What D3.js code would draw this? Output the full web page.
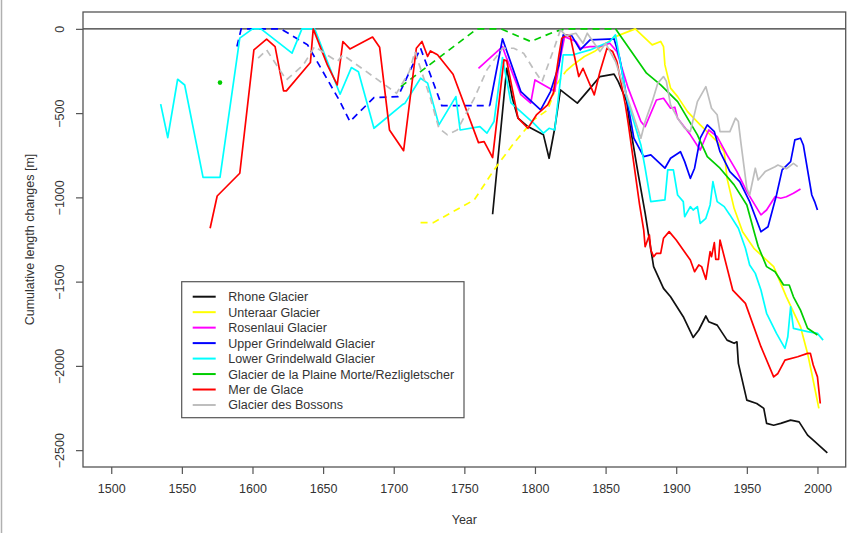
<!DOCTYPE html>
<html>
<head>
<meta charset="utf-8">
<script src="https://cdn.jsdelivr.net/npm/d3@7"></script>
<style>
  body { margin: 0; background: #fff; }
  svg text { font-family: "Liberation Sans", Arial, Helvetica, sans-serif; fill: #333; }
</style>
</head>
<body>
<script>
// cumulative length change [m] by year
var rhone = [[1770,-1100],[1780,-234],[1784,-412],[1788,-530],[1795,-580],[1806,-629],[1810,-768],[1814,-590],[1818,-362],[1830,-441],[1840,-343],[1846,-283],[1856,-269],[1859,-313],[1865,-432],[1867,-560],[1873,-857],[1878,-1094],[1884,-1411],[1891,-1540],[1896,-1590],[1905,-1708],[1912,-1831],[1916,-1787],[1921,-1704],[1923,-1738],[1929,-1758],[1936,-1847],[1941,-1866],[1943,-1857],[1944,-1985],[1950,-2203],[1957,-2223],[1962,-2252],[1964,-2341],[1969,-2352],[1974,-2341],[1981,-2322],[1987,-2332],[1993,-2411],[1997,-2441],[2007,-2516]];

var unteraarRecon = [[1719,-1150],[1728,-1150],[1742,-1085],[1757,-1015],[1771,-837],[1785,-679],[1799,-540],[1809,-481],[1816,-322],[1822,-250]];
var unteraar = [[1822,-250],[1827,-214],[1835,-164],[1842,-135],[1857,-46],[1871,0],[1883,-95],[1889,-75],[1891,-105],[1892,-214],[1896,-352],[1901,-402],[1908,-491],[1917,-570],[1929,-669],[1934,-729],[1936,-887],[1941,-1065],[1947,-1204],[1955,-1302],[1969,-1411],[1978,-1590],[1988,-1768],[1993,-1926],[1996,-2045],[2001,-2252]];

var rosenlaui = [[1760,-234],[1777,-105],[1779,-154],[1790,-390],[1797,-440],[1800,-303],[1814,-370],[1817,-214],[1821,-46],[1829,-75],[1832,-115],[1839,-105],[1846,-105],[1853,-85],[1858,-135],[1866,-352],[1875,-550],[1878,-580],[1886,-422],[1891,-412],[1896,-471],[1899,-465],[1901,-530],[1910,-629],[1917,-719],[1923,-600],[1929,-640],[1936,-748],[1943,-847],[1950,-966],[1960,-1104],[1964,-1075],[1970,-996],[1974,-1005],[1978,-996],[1983,-976],[1988,-950]];

var upperRecon = [[1589,-105],[1592,0],[1620,0],[1639,-95],[1662,-432],[1669,-550],[1686,-408],[1703,-402],[1719,-115],[1734,-455],[1768,-455]];
var upper = [[1768,-455],[1777,-59],[1790,-372],[1804,-481],[1811,-372],[1817,-214],[1820,-36],[1826,-40],[1832,-125],[1839,-65],[1856,-59],[1860,-174],[1865,-412],[1870,-649],[1877,-758],[1882,-748],[1892,-827],[1896,-768],[1903,-729],[1906,-788],[1910,-887],[1913,-827],[1917,-649],[1922,-570],[1927,-610],[1931,-729],[1938,-847],[1945,-907],[1952,-1025],[1960,-1204],[1965,-1174],[1971,-986],[1975,-837],[1981,-788],[1984,-659],[1988,-649],[1990,-689],[1996,-986],[1998,-1025],[2000,-1075]];

var lower = [[1535,-447],[1540,-645],[1547,-299],[1552,-333],[1565,-881],[1577,-881],[1591,-55],[1600,0],[1606,0],[1628,-144],[1635,0],[1644,0],[1653,-194],[1662,-388],[1670,-230],[1675,-254],[1686,-590],[1706,-451],[1708,-441],[1719,-293],[1724,-322],[1732,-570],[1744,-402],[1747,-600],[1761,-580],[1766,-619],[1771,-550],[1777,-170],[1783,-439],[1799,-560],[1806,-619],[1810,-590],[1814,-600],[1820,-154],[1827,-154],[1839,-125],[1853,-75],[1857,-36],[1865,-412],[1875,-689],[1878,-827],[1882,-1025],[1892,-1015],[1894,-837],[1898,-837],[1901,-986],[1905,-1025],[1906,-1115],[1910,-1055],[1912,-1075],[1915,-1055],[1917,-1154],[1921,-1124],[1924,-1045],[1926,-907],[1929,-1025],[1934,-1055],[1938,-1104],[1944,-1183],[1949,-1302],[1952,-1401],[1956,-1451],[1960,-1550],[1964,-1688],[1971,-1807],[1977,-1896],[1979,-1827],[1981,-1649],[1983,-1777],[1993,-1797],[2000,-1807],[2004,-1847]];

var morteEarly = [[1577,-319]];
var morteRecon = [[1705,-343],[1759,0],[1776,0],[1797,-75],[1814,-16],[1822,0],[1857,0]];
var morte = [[1857,0],[1879,-263],[1889,-333],[1901,-432],[1915,-629],[1922,-758],[1931,-827],[1941,-926],[1950,-1045],[1955,-1200],[1958,-1290],[1964,-1411],[1970,-1441],[1976,-1520],[1980,-1520],[1983,-1590],[1988,-1669],[1993,-1777],[2000,-1817]];

var merDeGlace = [[1570,-1183],[1575,-992],[1591,-857],[1601,-125],[1610,-61],[1616,-105],[1622,-368],[1624,-368],[1641,-200],[1643,0],[1653,-214],[1660,-333],[1664,-75],[1669,-119],[1685,-49],[1690,-109],[1697,-600],[1707,-723],[1716,-115],[1720,-75],[1724,-164],[1726,-131],[1731,-154],[1742,-269],[1760,-675],[1764,-669],[1770,-764],[1778,-184],[1780,-190],[1788,-530],[1795,-590],[1801,-511],[1809,-451],[1813,-382],[1817,-154],[1819,-55],[1823,-36],[1825,-46],[1831,-283],[1834,-234],[1842,-392],[1846,-254],[1851,-115],[1855,-135],[1858,-194],[1864,-451],[1866,-560],[1874,-1040],[1877,-1194],[1878,-1293],[1881,-1223],[1882,-1312],[1884,-1352],[1886,-1332],[1889,-1332],[1891,-1243],[1895,-1203],[1900,-1253],[1910,-1372],[1913,-1441],[1916,-1401],[1918,-1411],[1921,-1486],[1924,-1322],[1925,-1352],[1927,-1269],[1928,-1368],[1930,-1368],[1931,-1253],[1940,-1550],[1949,-1629],[1960,-1886],[1969,-2065],[1972,-2045],[1977,-1966],[1986,-1946],[1993,-1926],[1995,-1926],[1997,-1995],[2000,-2065],[2002,-2223]];

var bossonsRecon = [[1604,-174],[1610,-125],[1624,-303],[1636,-214],[1644,-105],[1660,-194],[1664,-154],[1702,-382],[1711,-254],[1715,-135],[1726,-412],[1732,-590],[1738,-629],[1745,-600],[1757,-412],[1766,-243],[1777,-115],[1785,-115],[1792,-145],[1799,-240],[1805,-313],[1814,-105],[1818,-6]];
var bossons = [[1818,-6],[1822,-40],[1829,-26],[1834,-85],[1837,-26],[1846,-135],[1850,-85],[1857,-194],[1875,-649],[1878,-550],[1883,-432],[1887,-322],[1891,-283],[1893,-310],[1896,-451],[1901,-530],[1906,-590],[1910,-610],[1915,-432],[1921,-343],[1925,-471],[1929,-510],[1931,-610],[1938,-610],[1942,-530],[1944,-550],[1946,-689],[1950,-946],[1952,-986],[1956,-827],[1958,-897],[1963,-847],[1970,-818],[1972,-808],[1978,-830],[1983,-798],[1986,-818]];

var names = ["Rhone Glacier","Unteraar Glacier","Rosenlaui Glacier","Upper Grindelwald Glacier","Lower Grindelwald Glacier","Glacier de la Plaine Morte/Rezligletscher","Mer de Glace","Glacier des Bossons"];
var xTicks = [1500,1550,1600,1650,1700,1750,1800,1850,1900,1950,2000];
var yTicks = [0,-500,-1000,-1500,-2000,-2500];

var colors = ["#111111","#ffff00","#ff00ff","#0000ff","#00ffff","#00cd00","#ff0000","#bebebe"];
var series = [
  {c: 0, solid: [rhone], dashed: []},
  {c: 1, solid: [unteraar], dashed: [unteraarRecon]},
  {c: 2, solid: [rosenlaui], dashed: []},
  {c: 3, solid: [upper], dashed: [upperRecon]},
  {c: 4, solid: [lower], dashed: []},
  {c: 5, solid: [morte], dashed: [morteRecon], dots: morteEarly},
  {c: 6, solid: [merDeGlace], dashed: []},
  {c: 7, solid: [bossons], dashed: [bossonsRecon]}
];

var width = 853, height = 533;
var L = 83, R = 845.7, T = 12, B = 467;

var svg = d3.select("body").append("svg")
  .attr("width", width).attr("height", height);

// thin frame on the left edge of the picture
svg.append("line").attr("x1", 1.5).attr("x2", 1.5).attr("y1", 0).attr("y2", height)
  .attr("stroke", "#b0b0b0").attr("stroke-width", 1.5);

var x = d3.scaleLinear().domain([1480, 2020]).range([L, R]);
var y = d3.scaleLinear().domain([-2600, 100]).range([B, T]);

var xAxis = svg.append("g").attr("transform", "translate(0," + B + ")")
  .call(d3.axisBottom(x).tickValues(xTicks).tickFormat(d3.format("d")).tickSize(7).tickPadding(10).tickSizeOuter(0));
xAxis.select(".domain").remove();

var yAxis = svg.append("g").attr("transform", "translate(" + L + ",0)")
  .call(d3.axisLeft(y).tickValues(yTicks).tickFormat(d3.format("d")).tickSize(7).tickSizeOuter(0));
yAxis.select(".domain").remove();
yAxis.selectAll("text")
  .attr("x", 0).attr("dy", 0)
  .attr("text-anchor", "middle")
  .attr("transform", "translate(-19,0) rotate(-90)");

svg.selectAll(".tick line").attr("stroke", "#555").attr("stroke-width", 1.2);
svg.selectAll(".tick text").style("font-size", "12.5px").attr("fill", "#333");

// zero line
svg.append("line").attr("x1", L).attr("x2", R).attr("y1", y(0)).attr("y2", y(0))
  .attr("stroke", "#333").attr("stroke-width", 1.1);

var line = d3.line().x(function(d){ return x(d[0]); }).y(function(d){ return y(d[1]); });

var plot = svg.append("g");
series.forEach(function(s){
  s.dashed.forEach(function(seg){
    plot.append("path").attr("d", line(seg)).attr("fill", "none")
      .attr("stroke", colors[s.c]).attr("stroke-width", 1.7).attr("stroke-dasharray", "7,5");
  });
  s.solid.forEach(function(seg){
    plot.append("path").attr("d", line(seg)).attr("fill", "none")
      .attr("stroke", colors[s.c]).attr("stroke-width", 1.7).attr("stroke-linejoin", "round");
  });
  (s.dots || []).forEach(function(p){
    plot.append("circle").attr("cx", x(p[0])).attr("cy", y(p[1])).attr("r", 2.3)
      .attr("fill", colors[s.c]);
  });
});

// plot box
svg.append("rect").attr("x", L).attr("y", T).attr("width", R - L).attr("height", B - T)
  .attr("fill", "none").attr("stroke", "#555").attr("stroke-width", 1.3);

// axis titles
svg.append("text").attr("x", (L + R) / 2).attr("y", 524).attr("text-anchor", "middle")
  .style("font-size", "12.5px").text("Year");
svg.append("text").attr("transform", "translate(34," + ((T + B) / 2) + ") rotate(-90)")
  .attr("text-anchor", "middle").style("font-size", "12.5px")
  .text("Cumulative length changes [m]");

// legend
var lg = svg.append("g");
lg.append("rect").attr("x", 181.7).attr("y", 281.7).attr("width", 282.3).attr("height", 136)
  .attr("fill", "#fff").attr("stroke", "#555").attr("stroke-width", 1.2);
names.forEach(function(n, i){
  var yy = 296.7 + i * 15.47;
  lg.append("line").attr("x1", 192.7).attr("x2", 215.7).attr("y1", yy).attr("y2", yy)
    .attr("stroke", colors[i]).attr("stroke-width", 2);
  lg.append("text").attr("x", 228.3).attr("y", yy + 4.5).style("font-size", "12.5px").text(n);
});
</script>
</body>
</html>
